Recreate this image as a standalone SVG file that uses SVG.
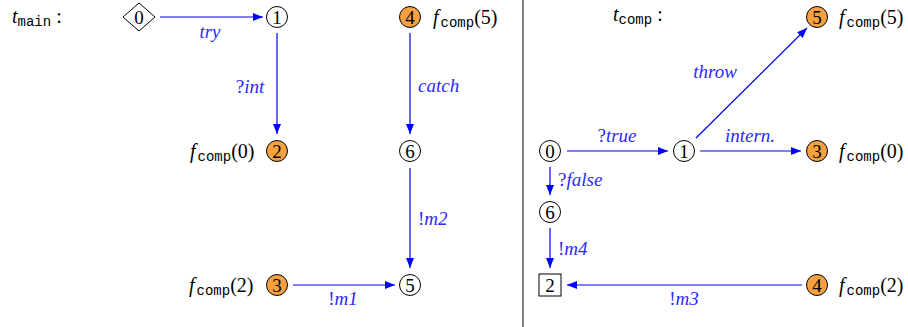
<svg xmlns="http://www.w3.org/2000/svg" width="908" height="327" viewBox="0 0 908 327">
<defs>
<style>
.st{fill:#fff;stroke:#000;stroke-width:1}
.acc{fill:#f5a142;stroke:#000;stroke-width:1}
.edge{stroke:#0000ff;stroke-width:1.2;fill:none;marker-end:url(#ah)}
</style>
<marker id="ah" viewBox="0 0 10 8" refX="10" refY="4" markerWidth="10" markerHeight="8" markerUnits="userSpaceOnUse" orient="auto">
<path d="M0,0 L10,4 L0,8 Z" fill="#0000ff"/>
</marker>
</defs>
<rect width="908" height="327" fill="#fff"/>
<line x1="523" y1="0" x2="523" y2="327" stroke="#333" stroke-width="1.2"/>
<text x="12" y="23" font-family="Liberation Serif" font-size="20" fill="#000"><tspan font-style="italic">t</tspan><tspan font-family="Liberation Mono" font-size="14" dy="3">main</tspan><tspan dy="-3"> :</tspan></text>
<text x="613" y="21" font-family="Liberation Serif" font-size="20" fill="#000"><tspan font-style="italic">t</tspan><tspan font-family="Liberation Mono" font-size="14" dy="3">comp</tspan><tspan dy="-3"> :</tspan></text>

<g id="connectors">
<line class="edge" x1="160" y1="17" x2="263" y2="17"/>
<line class="edge" x1="277" y1="33" x2="277" y2="134"/>
<line class="edge" x1="410" y1="33" x2="410" y2="134"/>
<line class="edge" x1="410" y1="168" x2="410" y2="268"/>
<line class="edge" x1="293" y1="285" x2="395" y2="285"/>
<line class="edge" x1="567" y1="151" x2="668" y2="151"/>
<line class="edge" x1="700" y1="151" x2="801" y2="151"/>
<line class="edge" x1="696" y1="138" x2="807" y2="28"/>
<line class="edge" x1="550" y1="167" x2="550" y2="195"/>
<line class="edge" x1="550" y1="228" x2="550" y2="268"/>
<line class="edge" x1="802" y1="285" x2="567" y2="285"/>
<text x="210" y="38" text-anchor="middle" font-family="Liberation Serif" font-style="italic" font-size="19" fill="#2a2aff">try</text>
<text x="250" y="93" text-anchor="middle" font-family="Liberation Serif" font-style="italic" font-size="19" fill="#2a2aff"><tspan font-style="normal">?</tspan>int</text>
<text x="418" y="92" font-family="Liberation Serif" font-style="italic" font-size="19" fill="#2a2aff">catch</text>
<text x="418" y="225" font-family="Liberation Serif" font-style="italic" font-size="19" fill="#2a2aff"><tspan font-style="normal">!</tspan>m2</text>
<text x="343" y="305" text-anchor="middle" font-family="Liberation Serif" font-style="italic" font-size="19" fill="#2a2aff"><tspan font-style="normal">!</tspan>m1</text>
<text x="617" y="142" text-anchor="middle" font-family="Liberation Serif" font-style="italic" font-size="19" fill="#2a2aff"><tspan font-style="normal">?</tspan>true</text>
<text x="750" y="142" text-anchor="middle" font-family="Liberation Serif" font-style="italic" font-size="19" fill="#2a2aff">intern.</text>
<text x="715" y="78" text-anchor="middle" font-family="Liberation Serif" font-style="italic" font-size="19" fill="#2a2aff">throw</text>
<text x="558" y="186" font-family="Liberation Serif" font-style="italic" font-size="19" fill="#2a2aff"><tspan font-style="normal">?</tspan>false</text>
<text x="558" y="255" font-family="Liberation Serif" font-style="italic" font-size="19" fill="#2a2aff"><tspan font-style="normal">!</tspan>m4</text>
<text x="684" y="305" text-anchor="middle" font-family="Liberation Serif" font-style="italic" font-size="19" fill="#2a2aff"><tspan font-style="normal">!</tspan>m3</text>
</g>

<g id="main-0"><polygon class="st" points="139,3 155,17 139,31 123,17"/><text x="139" y="24" text-anchor="middle" font-family="Liberation Serif" font-size="19">0</text></g>
<g id="main-1"><circle class="st" cx="277" cy="17" r="10.5"/><text x="277" y="24" text-anchor="middle" font-family="Liberation Serif" font-size="19">1</text></g>
<g id="main-2"><circle class="acc" cx="277" cy="151" r="10.5"/><text x="277" y="158" text-anchor="middle" font-family="Liberation Serif" font-size="19">2</text>
<text x="190" y="158" font-family="Liberation Serif" font-size="20"><tspan font-style="italic">f</tspan><tspan font-family="Liberation Mono" font-size="14" dx="2" dy="3">comp</tspan><tspan dy="-3">(0)</tspan></text></g>
<g id="main-4"><circle class="acc" cx="410" cy="17" r="10.5"/><text x="410" y="24" text-anchor="middle" font-family="Liberation Serif" font-size="19">4</text>
<text x="433" y="24" font-family="Liberation Serif" font-size="20"><tspan font-style="italic">f</tspan><tspan font-family="Liberation Mono" font-size="14" dx="2" dy="3">comp</tspan><tspan dy="-3">(5)</tspan></text></g>
<g id="main-6"><circle class="st" cx="410" cy="151" r="10.5"/><text x="410" y="158" text-anchor="middle" font-family="Liberation Serif" font-size="19">6</text></g>
<g id="main-5"><circle class="st" cx="410" cy="285" r="10.5"/><text x="410" y="292" text-anchor="middle" font-family="Liberation Serif" font-size="19">5</text></g>
<g id="main-3"><circle class="acc" cx="277" cy="285" r="10.5"/><text x="277" y="292" text-anchor="middle" font-family="Liberation Serif" font-size="19">3</text>
<text x="189" y="292" font-family="Liberation Serif" font-size="20"><tspan font-style="italic">f</tspan><tspan font-family="Liberation Mono" font-size="14" dx="2" dy="3">comp</tspan><tspan dy="-3">(2)</tspan></text></g>

<g id="comp-0"><circle class="st" cx="550" cy="151" r="10.5"/><text x="550" y="158" text-anchor="middle" font-family="Liberation Serif" font-size="19">0</text></g>
<g id="comp-1"><circle class="st" cx="684" cy="151" r="10.5"/><text x="684" y="158" text-anchor="middle" font-family="Liberation Serif" font-size="19">1</text></g>
<g id="comp-5"><circle class="acc" cx="817" cy="17" r="10.5"/><text x="817" y="24" text-anchor="middle" font-family="Liberation Serif" font-size="19">5</text>
<text x="839" y="24" font-family="Liberation Serif" font-size="20"><tspan font-style="italic">f</tspan><tspan font-family="Liberation Mono" font-size="14" dx="2" dy="3">comp</tspan><tspan dy="-3">(5)</tspan></text></g>
<g id="comp-3"><circle class="acc" cx="817" cy="151" r="10.5"/><text x="817" y="158" text-anchor="middle" font-family="Liberation Serif" font-size="19">3</text>
<text x="839" y="158" font-family="Liberation Serif" font-size="20"><tspan font-style="italic">f</tspan><tspan font-family="Liberation Mono" font-size="14" dx="2" dy="3">comp</tspan><tspan dy="-3">(0)</tspan></text></g>
<g id="comp-6"><circle class="st" cx="550" cy="212" r="10.5"/><text x="550" y="219" text-anchor="middle" font-family="Liberation Serif" font-size="19">6</text></g>
<g id="comp-2"><rect class="st" x="539" y="274" width="22" height="22"/><text x="550" y="292" text-anchor="middle" font-family="Liberation Serif" font-size="19">2</text></g>
<g id="comp-4"><circle class="acc" cx="817" cy="285" r="10.5"/><text x="817" y="292" text-anchor="middle" font-family="Liberation Serif" font-size="19">4</text>
<text x="839" y="292" font-family="Liberation Serif" font-size="20"><tspan font-style="italic">f</tspan><tspan font-family="Liberation Mono" font-size="14" dx="2" dy="3">comp</tspan><tspan dy="-3">(2)</tspan></text></g>
</svg>
